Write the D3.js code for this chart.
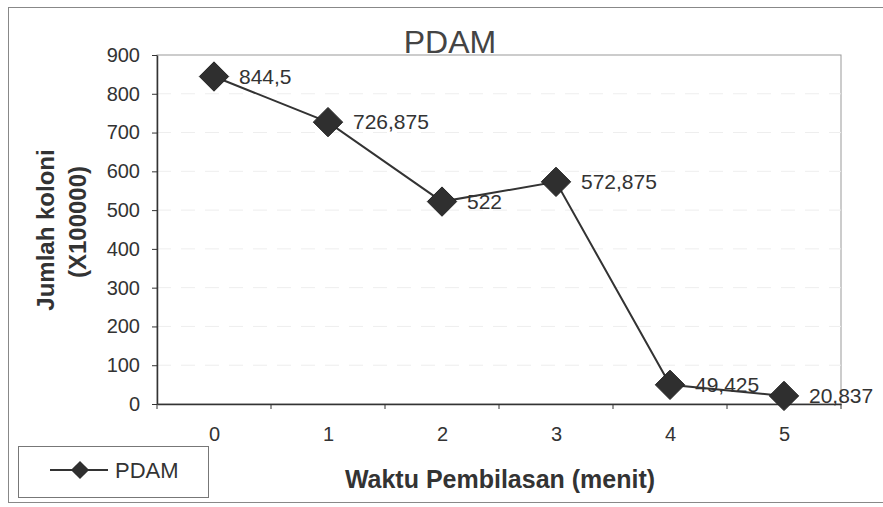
<!DOCTYPE html>
<html>
<head>
<meta charset="utf-8">
<script src="https://cdn.jsdelivr.net/npm/d3@7"></script>
<style>
	body { margin: 0; background: #fff; }
	svg { font-family: 'Liberation Sans', Arial, sans-serif; display: block; }
</style>
</head>
<body>
<div id="graph"></div>
<script>
// data
var categories = ['0', '1', '2', '3', '4', '5'];
var values = [844.5, 726.875, 522, 572.875, 49.425, 20.837];
var labels = ['844,5', '726,875', '522', '572,875', '49,425', '20,837'];
var yTicks = [0, 100, 200, 300, 400, 500, 600, 700, 800, 900];
var seriesName = 'PDAM';

var width = 883,
	height = 507;

var plot = { left: 157, top: 55, right: 841, bottom: 404 };

var ink = '#333';

var svg = d3.select('#graph').append('svg')
			.attr('width', width)
			.attr('height', height);

var xScale = d3.scalePoint()
				.domain(categories)
				.range([plot.left, plot.right])
				.padding(0.5);

var yScale = d3.scaleLinear()
				.domain([0, 900])
				.range([plot.bottom, plot.top]);

// outer chart border
svg.append('rect')
	.attr('x', 8.5)
	.attr('y', 7.5)
	.attr('width', width)
	.attr('height', 495)
	.attr('fill', 'none')
	.attr('stroke', '#888')
	.attr('stroke-width', 1);

// plot frame
svg.append('rect')
	.attr('x', plot.left)
	.attr('y', plot.top)
	.attr('width', plot.right - plot.left)
	.attr('height', plot.bottom - plot.top)
	.attr('fill', 'none')
	.attr('stroke', '#999')
	.attr('stroke-width', 1);

// faint gridlines
svg.append('g')
	.selectAll('line').data(yTicks.slice(1, -1)).enter()
	.append('line')
		.attr('x1', plot.left)
		.attr('x2', plot.right)
		.attr('y1', function(d) { return yScale(d); })
		.attr('y2', function(d) { return yScale(d); })
		.attr('stroke', '#eeeeee')
		.attr('stroke-dasharray', '14,10');

// y axis
var yAxis = d3.axisLeft(yScale)
				.tickValues(yTicks)
				.tickSizeInner(5)
				.tickSizeOuter(0)
				.tickPadding(12);

var yg = svg.append('g')
	.attr('transform', 'translate(' + plot.left + ',0)')
	.call(yAxis);

// x axis, ticks sit between categories
var xAxis = d3.axisBottom(xScale)
				.tickSize(0)
				.tickPadding(23);

var xg = svg.append('g')
	.attr('transform', 'translate(0,' + plot.bottom + ')')
	.call(xAxis);

var step = xScale.step();
xg.selectAll('.sep').data(d3.range(categories.length + 1)).enter()
	.append('line')
		.attr('class', 'sep')
		.attr('x1', function(i) { return plot.left + i * step; })
		.attr('x2', function(i) { return plot.left + i * step; })
		.attr('y1', 0)
		.attr('y2', 5)
		.attr('stroke', ink);

[yg, xg].forEach(function(g) {
	g.select('.domain').attr('stroke', ink).attr('stroke-width', 1.5);
	g.selectAll('.tick line').attr('stroke', ink);
	g.selectAll('.tick text')
		.attr('fill', ink)
		.style('font-size', '20px');
});

// line and markers
var line = d3.line()
	.x(function(d, i) { return xScale(categories[i]); })
	.y(function(d) { return yScale(d); });

svg.append('path')
	.datum(values)
	.attr('d', line)
	.attr('fill', 'none')
	.attr('stroke', ink)
	.attr('stroke-width', 2);

var diamond = d3.symbol().type(d3.symbolDiamond2).size(550);

svg.selectAll('.marker').data(values).enter()
	.append('path')
		.attr('class', 'marker')
		.attr('d', diamond)
		.attr('transform', function(d, i) {
			return 'translate(' + xScale(categories[i]) + ',' + yScale(d) + ')';
		})
		.attr('fill', '#2f2f2f')
		.attr('stroke', '#222')
		.attr('stroke-width', 1);

svg.selectAll('.dlabel').data(values).enter()
	.append('text')
		.attr('class', 'dlabel')
		.attr('x', function(d, i) { return xScale(categories[i]) + 25; })
		.attr('y', function(d) { return yScale(d) + 7; })
		.attr('fill', ink)
		.style('font-size', '21px')
		.text(function(d, i) { return labels[i]; });

// title
svg.append('text')
	.attr('x', 450)
	.attr('y', 53)
	.attr('text-anchor', 'middle')
	.attr('fill', '#444')
	.style('font-size', '32px')
	.text(seriesName);

// axis titles
svg.append('text')
	.attr('x', 500)
	.attr('y', 488)
	.attr('text-anchor', 'middle')
	.attr('fill', ink)
	.style('font-size', '25px')
	.style('font-weight', 'bold')
	.text('Waktu Pembilasan (menit)');

svg.append('text')
	.attr('transform', 'translate(54,230) rotate(-90)')
	.attr('text-anchor', 'middle')
	.attr('fill', ink)
	.style('font-size', '24px')
	.style('font-weight', 'bold')
	.text('Jumlah koloni');

svg.append('text')
	.attr('transform', 'translate(86,222) rotate(-90)')
	.attr('text-anchor', 'middle')
	.attr('fill', ink)
	.style('font-size', '24px')
	.style('font-weight', 'bold')
	.text('(X100000)');

// legend
var legend = svg.append('g');

legend.append('rect')
	.attr('x', 18.5)
	.attr('y', 446.5)
	.attr('width', 190)
	.attr('height', 51)
	.attr('fill', '#fff')
	.attr('stroke', '#777');

legend.append('line')
	.attr('x1', 50)
	.attr('x2', 108)
	.attr('y1', 470)
	.attr('y2', 470)
	.attr('stroke', ink)
	.attr('stroke-width', 2);

legend.append('path')
	.attr('d', d3.symbol().type(d3.symbolDiamond2).size(210))
	.attr('transform', 'translate(80,470)')
	.attr('fill', '#2f2f2f');

legend.append('text')
	.attr('x', 115)
	.attr('y', 478)
	.attr('fill', ink)
	.style('font-size', '22px')
	.text(seriesName);
</script>
</body>
</html>
